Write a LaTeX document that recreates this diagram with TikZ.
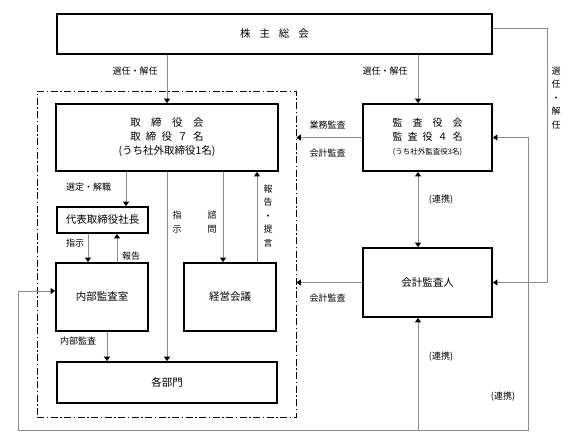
\documentclass[tikz,border=0pt]{standalone}
\usepackage{fontspec}
\setmainfont{Noto Sans CJK JP}
\usetikzlibrary{arrows.meta, positioning, calc}
\definecolor{linegray}{RGB}{140,140,140}

\begin{document}
\begin{tikzpicture}[
        x=1pt, y=-1pt,
        >={Triangle[black,length=4.5pt,width=6pt]},
        organ/.style={draw, line width=1.8pt, inner sep=0pt, align=center,
            font=\fontsize{10.5}{14}\selectfont},
        flow/.style={draw=linegray, line width=1pt},
        lbl/.style={inner sep=0pt, align=center, font=\fontsize{9}{13.5}\selectfont},
        board/.style={draw, line width=0.8pt, inner sep=0pt,
            dash pattern=on 7pt off 2.5pt on 1.5pt off 2.5pt},
    ]
    \useasboundingbox (0,0) rectangle (567,445);

    % 取締役会の範囲
    \node[board, minimum width=259pt, minimum height=326pt] (grp) at (166.5,254) {};

    % 機関
    \node[organ, minimum width=435pt, minimum height=40pt] (soukai) at (274.5,34)
        {株\hspace{.85em}主\hspace{.85em}総\hspace{.85em}会};
    \node[organ, minimum width=222pt, minimum height=67pt] (tori) at (167,137.5)
        {取\hspace{1em}締\hspace{1em}役\hspace{1em}会\\
         取\hspace{.5em}締\hspace{.5em}役\hspace{.5em}７\hspace{.5em}名\\
         (うち社外取締役1名)};
    \node[organ, minimum width=129pt, minimum height=67pt,
          font=\fontsize{10}{14}\selectfont] (kansa) at (427.5,137.5)
        {監\hspace{1em}査\hspace{1em}役\hspace{1em}会\\
         監\hspace{.5em}査\hspace{.5em}役\hspace{.5em}４\hspace{.5em}名\\
         {\fontsize{7.5}{14}\selectfont (うち社外監査役3名)}};
    \node[organ, minimum width=91pt, minimum height=26pt] (daihyo) at (102.5,220) {代表取締役社長};
    \node[organ, minimum width=92pt, minimum height=68pt] (naibu) at (102,297) {内部監査室};
    \node[organ, minimum width=92pt, minimum height=68pt] (keiei) at (230,297) {経営会議};
    \node[organ, minimum width=220pt, minimum height=41pt] (bumon) at (167,382.5) {各部門};
    \node[organ, minimum width=129pt, minimum height=69pt] (kaikei) at (427.5,282.5) {会計監査人};

    % 線の通り道
    \coordinate (kcol) at (418,0);
    \coordinate (rr) at (547,28);
    \coordinate (lp) at (528,430);
    \coordinate (ll) at (18,430);
    \coordinate (naibuin) at ($(naibu.west)+(0,-6)$);
    \coordinate (sel) at (126,0);
    \coordinate (shiji) at (88,0);
    \coordinate (hokoku) at (117,0);
    \coordinate (shimon) at (223,0);
    \coordinate (teigen) at (257,0);
    \coordinate (naikan) at (107,0);

    % 株主総会から
    \draw[flow,->] (soukai.south -| tori.north) -- (tori.north);
    \draw[flow,->] (kcol |- soukai.south) -- (kcol |- kansa.north);
    \draw[flow,->] (soukai.east |- rr) -- (rr) -- (rr |- kaikei.east) -- (kaikei.east);

    % 監査
    \draw[flow,->] (kansa.west) -- (kansa.west -| grp.east);
    \draw[flow,->] (kaikei.west) -- (kaikei.west -| grp.east);
    \draw[flow,<->] (kcol |- kansa.south) -- (kcol |- kaikei.north);
    \draw[flow,<->] (naibuin) -- (naibuin -| ll) -- (ll) -- (lp) -- (lp |- kansa.east) -- (kansa.east);
    \draw[flow,->] (kcol |- ll) -- (kcol |- kaikei.south);

    % 取締役会の中
    \draw[flow,->] (sel |- tori.south) -- (sel |- daihyo.north);
    \draw[flow,->] (shiji |- daihyo.south) -- (shiji |- naibu.north);
    \draw[flow,->] (hokoku |- naibu.north) -- (hokoku |- daihyo.south);
    \draw[flow,->] (tori.south) -- (bumon.north);
    \draw[flow,->] (shimon |- tori.south) -- (shimon |- keiei.north);
    \draw[flow,->] (teigen |- keiei.north) -- (teigen |- tori.south);
    \draw[flow,->] (naikan |- naibu.south) -- (naikan |- bumon.north);

    % ラベル
    \node[lbl] (sen1) at (135,71) {選任・解任};
    \node[lbl] (sen2) at (385,71) {選任・解任};
    \node[lbl] (sen3) at (556,98) {選\\任\\・\\解\\任};
    \node[lbl] (gyomu) at (327.5,125) {業務監査};
    \node[lbl] (kaikan1) at (327.5,153) {会計監査};
    \node[lbl] (renk1) at (441,200) {(連携)};
    \node[lbl] (kaikan2) at (327.5,298) {会計監査};
    \node[lbl] (renk2) at (441,357) {(連携)};
    \node[lbl] (renk3) at (503,397) {(連携)};
    \node[lbl] (sentei) at (88.5,187) {選定・解職};
    \node[lbl] (shiji1) at (75,243) {指示};
    \node[lbl] (hokoku1) at (131,256) {報告};
    \node[lbl] (shiji2) at (177,222) {指\\示};
    \node[lbl] (shimon1) at (212,222) {諮\\問};
    \node[lbl] (teigen1) at (268,216) {報\\告\\・\\提\\言};
    \node[lbl] (naikan1) at (78,341) {内部監査};
\end{tikzpicture}
\end{document}
